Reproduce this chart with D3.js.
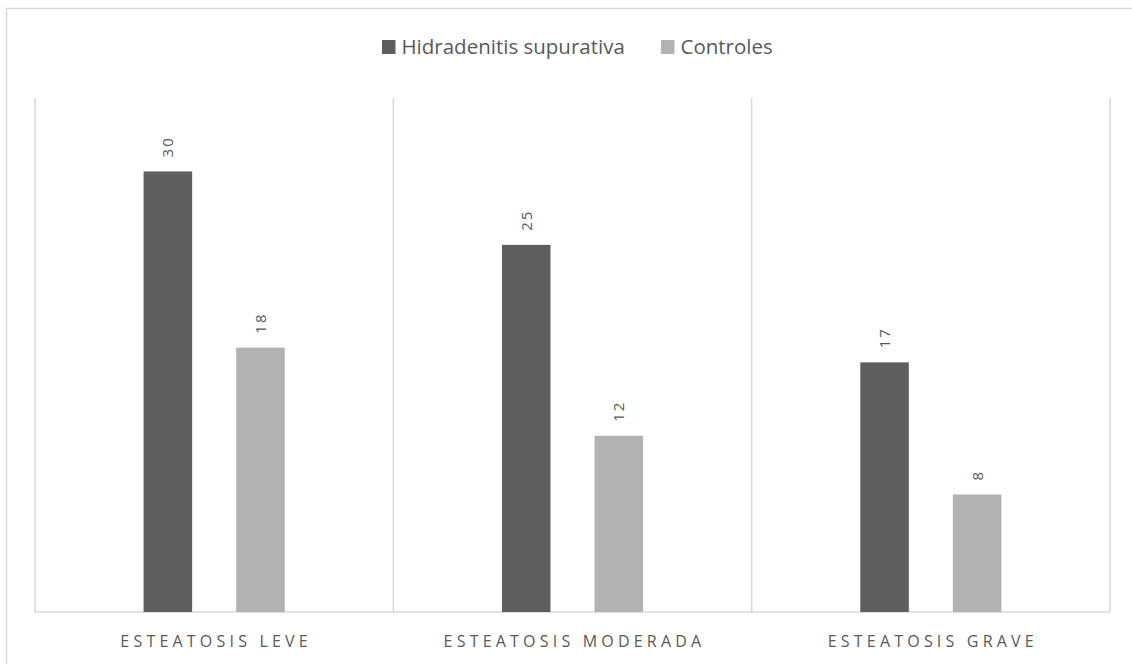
<!DOCTYPE html>
<html>
<head>
<meta charset="utf-8">
<script src="https://cdn.jsdelivr.net/npm/d3@7"></script>
<style>
  html, body { margin: 0; padding: 0; background: #fff; }
  svg { display: block; }
  text { font-family: "Open Sans", Lato, sans-serif; fill: #595959; }
</style>
</head>
<body>
<svg id="chart" width="1132" height="664"></svg>
<script>
// Categories, series and values
const categories = ["ESTEATOSIS LEVE", "ESTEATOSIS MODERADA", "ESTEATOSIS GRAVE"];
const seriesNames = ["Hidradenitis supurativa", "Controles"];
const hidradenitis = [30, 25, 17];
const controles = [18, 12, 8];
const seriesColors = ["#5e5e5e", "#b2b2b2"];

const rows = categories.map((c, i) => ({
  category: c,
  values: [
    { series: seriesNames[0], value: hidradenitis[i] },
    { series: seriesNames[1], value: controles[i] }
  ]
}));

const W = 1132, H = 664;
const plot = { left: 35, right: 1110, top: 98, bottom: 612 };
const gridColor = "#d9d9d9";

const svg = d3.select("#chart");

// chart frame
svg.append("rect")
  .attr("x", 6.5).attr("y", 8.5)
  .attr("width", W + 20).attr("height", H + 20)
  .attr("fill", "none").attr("stroke", gridColor).attr("stroke-width", 1.5);

const x0 = d3.scaleBand()
  .domain(categories)
  .range([plot.left, plot.right])
  .padding(0);

const x1 = d3.scaleBand()
  .domain(seriesNames)
  .range([0, x0.bandwidth()])
  .paddingInner(0.4757)
  .paddingOuter(1.173);

const y = d3.scaleLinear()
  .domain([0, 35])
  .range([plot.bottom, plot.top]);

const color = d3.scaleOrdinal().domain(seriesNames).range(seriesColors);

// category separators
const seps = categories.map(c => x0(c)).concat([x0.range()[1]]);
svg.append("g").selectAll("line")
  .data(seps)
  .join("line")
  .attr("x1", d => d).attr("x2", d => d)
  .attr("y1", plot.top).attr("y2", plot.bottom)
  .attr("stroke", gridColor).attr("stroke-width", 1.5);

// baseline
svg.append("line")
  .attr("x1", plot.left).attr("x2", plot.right)
  .attr("y1", y(0)).attr("y2", y(0))
  .attr("stroke", gridColor).attr("stroke-width", 1.5);

// bars
const groups = svg.append("g").selectAll("g")
  .data(rows)
  .join("g")
  .attr("transform", d => `translate(${x0(d.category)},0)`);

groups.selectAll("rect")
  .data(d => d.values)
  .join("rect")
  .attr("x", d => x1(d.series))
  .attr("y", d => y(d.value))
  .attr("width", x1.bandwidth())
  .attr("height", d => y(0) - y(d.value))
  .attr("fill", d => color(d.series));

// value labels, rotated
groups.selectAll("text.value")
  .data(d => d.values)
  .join("text")
  .attr("class", "value")
  .attr("transform", d => `translate(${x1(d.series) + x1.bandwidth() / 2 + 5.5},${y(d.value) - 14}) rotate(-90)`)
  .attr("text-anchor", "start")
  .style("font-size", "15px")
  .style("letter-spacing", "2px")
  .text(d => d.value);

// category axis labels
svg.append("g").selectAll("text")
  .data(categories)
  .join("text")
  .attr("x", d => x0(d) + x0.bandwidth() / 2 + 2)
  .attr("y", 647)
  .attr("text-anchor", "middle")
  .style("font-size", "16px")
  .style("letter-spacing", "4.2px")
  .text(d => d);

// legend
const legendItems = [
  { name: seriesNames[0], x: 382 },
  { name: seriesNames[1], x: 661 }
];
const legend = svg.append("g").selectAll("g")
  .data(legendItems)
  .join("g")
  .attr("transform", d => `translate(${d.x},0)`);
legend.append("rect")
  .attr("x", 0).attr("y", 40)
  .attr("width", 13.5).attr("height", 14)
  .attr("fill", d => color(d.name));
legend.append("text")
  .attr("x", 19.5).attr("y", 54)
  .style("font-size", "20.5px")
  .text(d => d.name);
</script>
</body>
</html>
